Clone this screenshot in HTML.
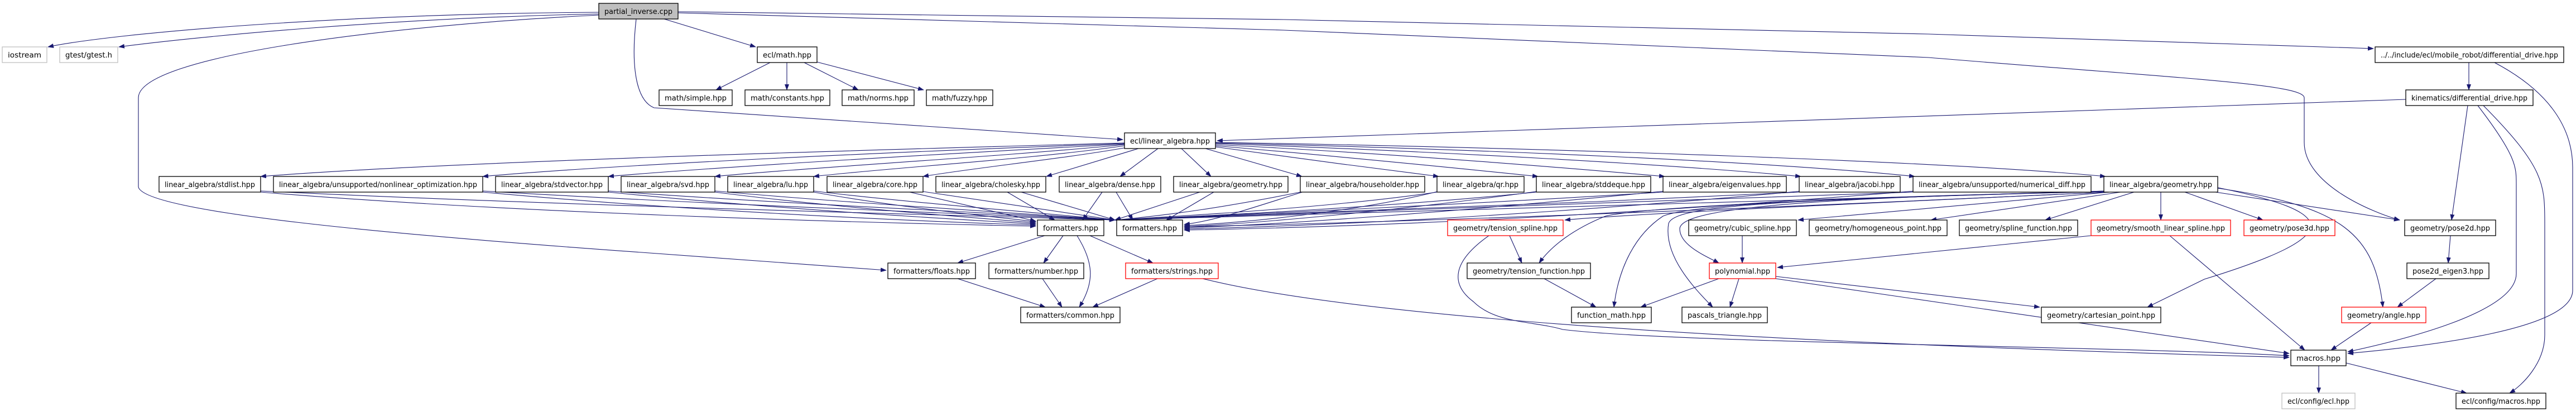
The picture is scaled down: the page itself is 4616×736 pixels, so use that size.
<!DOCTYPE html>
<html><head><meta charset="utf-8"><style>
html,body{margin:0;padding:0;background:#fff}
svg{display:block}
text{font-family:"DejaVu Sans","Liberation Sans",sans-serif;font-size:13px;fill:#000}
.n{fill:#fff;stroke:#000;stroke-width:1.3}
.r{fill:#fff;stroke:#ff0000;stroke-width:1.3}
.g{fill:#fff;stroke:#bfbfbf;stroke-width:1.3}
.e path,.e line{fill:none;stroke:#191970;stroke-width:1.1;marker-end:url(#a)}
</style></head><body>
<svg width="4616" height="736" viewBox="0 0 4616 736" xmlns="http://www.w3.org/2000/svg">
<defs><marker id="a" markerUnits="userSpaceOnUse" markerWidth="11" markerHeight="8" refX="10" refY="4" orient="auto"><path d="M0,0 L11,4 L0,8 z" fill="#191970"/></marker></defs>
<g class="e">
<!-- partial_inverse -->
<path d="M1073,22 C600,25 200,60 86,84"/>
<path d="M1073,25 C700,32 350,66 213,84"/>
<line x1="1190" y1="34" x2="1354" y2="84"/>
<path d="M1140,34 C1130,120 1140,180 1172,193 L2012,250"/>
<path d="M1073,27 C700,45 248,100 248,175 L248,335 C260,380 700,420 1150,452 L1588,484"/>
<path d="M1215,21 L2300,35 L3456,61 L4253,87"/>
<path d="M1215,23 L2300,54 L3456,103 C3900,140 4129,150 4129,175 L4129,255 C4129,330 4250,380 4300,394"/>
<!-- math -->
<line x1="1380" y1="112" x2="1283" y2="161"/>
<line x1="1410" y1="112" x2="1410" y2="161"/>
<line x1="1441" y1="112" x2="1538" y2="161"/>
<line x1="1464" y1="111" x2="1655" y2="161"/>
<!-- ecl/linear_algebra -> row4 -->
<path d="M2015,256 C1500,270 800,290 467,316"/>
<path d="M2015,257 C1600,272 1100,295 865,316"/>
<path d="M2015,258 C1700,275 1300,298 1090,316"/>
<path d="M2015,259 C1800,280 1450,300 1281,316"/>
<path d="M2015,261 C1850,285 1600,300 1458,316"/>
<path d="M2020,264 C1900,285 1750,300 1654,316"/>
<line x1="2040" y1="266" x2="1875" y2="316"/>
<line x1="2075" y1="266" x2="2007" y2="316"/>
<line x1="2117" y1="266" x2="2170" y2="316"/>
<line x1="2160" y1="266" x2="2333" y2="316"/>
<path d="M2178,263 C2300,280 2450,300 2578,316"/>
<path d="M2178,261 C2400,280 2600,300 2756,316"/>
<path d="M2178,259 C2500,275 2800,300 2983,316"/>
<path d="M2178,257 C2600,272 3000,295 3227,316"/>
<path d="M2178,256 C2700,268 3200,292 3431,316"/>
<path d="M2178,255 C2800,265 3500,290 3773,316"/>
<path d="M4311,178 L2181,252"/>
<!-- row4 -> formatters -->
<path d="M467,344 C900,380 1500,398 1856,405"/>
<path d="M467,342 C1000,368 1700,385 1998,394"/>
<path d="M865,344 C1200,375 1600,395 1856,403"/>
<path d="M865,342 C1300,368 1800,385 1998,394"/>
<path d="M1090,344 C1400,375 1700,392 1856,401"/>
<path d="M1090,342 C1400,365 1800,382 1998,394"/>
<path d="M1281,344 C1500,372 1750,390 1856,399"/>
<path d="M1281,342 C1500,362 1800,380 1998,394"/>
<path d="M1458,344 C1600,370 1780,388 1856,397"/>
<path d="M1458,342 C1600,360 1850,380 1998,394"/>
<line x1="1630" y1="344" x2="1856" y2="396"/>
<line x1="1654" y1="343" x2="1998" y2="394"/>
<line x1="1805" y1="344" x2="1890" y2="394"/>
<line x1="1830" y1="344" x2="1998" y2="394"/>
<line x1="1975" y1="344" x2="1940" y2="394"/>
<line x1="2000" y1="344" x2="2030" y2="394"/>
<line x1="2150" y1="344" x2="1998" y2="394"/>
<line x1="2175" y1="344" x2="2090" y2="394"/>
<path d="M2330,344 C2200,370 2100,385 1998,394"/>
<path d="M2340,342 C2250,370 2180,395 2122,402"/>
<path d="M2575,344 C2400,370 2150,385 1998,394"/>
<path d="M2580,342 C2450,375 2250,398 2122,404"/>
<path d="M2753,344 C2500,370 2200,385 1998,394"/>
<path d="M2760,342 C2500,378 2250,400 2122,406"/>
<path d="M2980,344 C2600,368 2200,385 1998,394"/>
<path d="M2985,342 C2600,380 2300,402 2122,408"/>
<path d="M3224,344 C2800,365 2300,385 1998,394"/>
<path d="M3230,342 C2800,382 2400,404 2122,410"/>
<path d="M3428,344 C2900,362 2300,385 1998,394"/>
<path d="M3432,342 C2900,385 2500,405 2122,412"/>
<path d="M3775,344 C3000,380 2500,398 2122,406"/>
<path d="M3775,342 C3000,362 2400,380 1998,394"/>
<!-- geometry2 -->
<line x1="3800" y1="344" x2="3460" y2="394"/>
<line x1="3824" y1="344" x2="3665" y2="394"/>
<line x1="3872" y1="344" x2="3872" y2="394"/>
<line x1="3915" y1="344" x2="4055" y2="394"/>
<line x1="3970" y1="344" x2="4300" y2="394"/>
<path d="M3974,337 C4200,370 4255,420 4270,550"/>
<path d="M3974,336 C4190,380 4210,420 3950,500 L3848,550"/>
<line x1="3780" y1="344" x2="3222" y2="394"/>
<path d="M3780,344 C3200,370 2900,385 2804,394"/>
<path d="M3775,342 C3300,355 2950,370 2877,387 C2820,410 2780,440 2758,471"/>
<path d="M3775,343 C3200,355 3020,370 2980,387 C2930,420 2900,480 2892,550"/>
<path d="M3775,343 C3150,358 3000,370 2990,400 C2980,460 3040,520 3069,550"/>
<path d="M3775,343 C3150,355 3010,380 3010,410 C3010,440 3060,460 3080,471"/>
<!-- row5/6 -->
<line x1="3122" y1="422" x2="3122" y2="471"/>
<line x1="3747" y1="422" x2="3185" y2="479"/>
<line x1="3888" y1="422" x2="4130" y2="627"/>
<line x1="2705" y1="422" x2="2727" y2="471"/>
<path d="M2668,422 C2600,470 2600,510 2640,540 C2680,580 2750,575 2800,590 C3000,615 3800,620 4102,637"/>
<line x1="2767" y1="499" x2="2860" y2="550"/>
<line x1="3080" y1="499" x2="2940" y2="550"/>
<line x1="3116" y1="499" x2="3100" y2="550"/>
<line x1="3182" y1="495" x2="3655" y2="550"/>
<line x1="3182" y1="499" x2="4102" y2="633"/>
<path d="M2155,499 C2400,560 3000,610 4102,640"/>
<line x1="2074" y1="499" x2="1958" y2="550"/>
<line x1="1716" y1="499" x2="1873" y2="550"/>
<line x1="1868" y1="499" x2="1903" y2="550"/>
<path d="M1930,422 C1960,470 1962,505 1934,550"/>
<line x1="1872" y1="422" x2="1716" y2="471"/>
<line x1="1905" y1="422" x2="1870" y2="471"/>
<line x1="1953" y1="422" x2="2066" y2="471"/>
<!-- right side -->
<line x1="4424" y1="112" x2="4424" y2="161"/>
<path d="M4470,112 C4580,170 4610,240 4610,300 L4610,520 C4610,590 4350,620 4207,633"/>
<line x1="4422" y1="189" x2="4393" y2="394"/>
<path d="M4440,189 C4510,280 4509,300 4509,330 L4509,490 C4509,560 4300,610 4207,630"/>
<path d="M4450,189 C4560,300 4560,330 4560,400 L4560,600 C4560,650 4520,690 4497,704"/>
<line x1="4391" y1="422" x2="4387" y2="471"/>
<line x1="4365" y1="499" x2="4296" y2="550"/>
<line x1="4249" y1="578" x2="4177" y2="627"/>
<line x1="4155" y1="655" x2="4155" y2="704"/>
<line x1="4204" y1="650" x2="4420" y2="704"/>
</g>
<g>
<rect x="1073" y="6" width="142" height="28" fill="#bfbfbf" stroke="#000" stroke-width="1.3"/><text x="1083" y="25" textLength="122" lengthAdjust="spacingAndGlyphs">partial_inverse.cpp</text>
<rect class="g" x="4" y="84" width="80" height="28"/><text x="14" y="103" textLength="60" lengthAdjust="spacingAndGlyphs">iostream</text>
<rect class="g" x="107" y="84" width="104" height="28"/><text x="117" y="103" textLength="84" lengthAdjust="spacingAndGlyphs">gtest/gtest.h</text>
<rect class="n" x="1357" y="84" width="107" height="28"/><text x="1367" y="103" textLength="87" lengthAdjust="spacingAndGlyphs">ecl/math.hpp</text>
<rect class="n" x="4256" y="84" width="338" height="28"/><text x="4266" y="103" textLength="318" lengthAdjust="spacingAndGlyphs">../../include/ecl/mobile_robot/differential_drive.hpp</text>
<rect class="n" x="1181" y="161" width="131" height="28"/><text x="1191" y="180" textLength="111" lengthAdjust="spacingAndGlyphs">math/simple.hpp</text>
<rect class="n" x="1335" y="161" width="152" height="28"/><text x="1345" y="180" textLength="132" lengthAdjust="spacingAndGlyphs">math/constants.hpp</text>
<rect class="n" x="1509" y="161" width="129" height="28"/><text x="1519" y="180" textLength="109" lengthAdjust="spacingAndGlyphs">math/norms.hpp</text>
<rect class="n" x="1660" y="161" width="119" height="28"/><text x="1670" y="180" textLength="99" lengthAdjust="spacingAndGlyphs">math/fuzzy.hpp</text>
<rect class="n" x="4311" y="161" width="228" height="28"/><text x="4321" y="180" textLength="208" lengthAdjust="spacingAndGlyphs">kinematics/differential_drive.hpp</text>
<rect class="n" x="2015" y="238" width="163" height="28"/><text x="2025" y="257" textLength="143" lengthAdjust="spacingAndGlyphs">ecl/linear_algebra.hpp</text>
<rect class="n" x="285" y="316" width="182" height="28"/><text x="295" y="335" textLength="162" lengthAdjust="spacingAndGlyphs">linear_algebra/stdlist.hpp</text>
<rect class="n" x="490" y="316" width="375" height="28"/><text x="500" y="335" textLength="355" lengthAdjust="spacingAndGlyphs">linear_algebra/unsupported/nonlinear_optimization.hpp</text>
<rect class="n" x="888" y="316" width="202" height="28"/><text x="898" y="335" textLength="182" lengthAdjust="spacingAndGlyphs">linear_algebra/stdvector.hpp</text>
<rect class="n" x="1113" y="316" width="168" height="28"/><text x="1123" y="335" textLength="148" lengthAdjust="spacingAndGlyphs">linear_algebra/svd.hpp</text>
<rect class="n" x="1304" y="316" width="154" height="28"/><text x="1314" y="335" textLength="134" lengthAdjust="spacingAndGlyphs">linear_algebra/lu.hpp</text>
<rect class="n" x="1482" y="316" width="172" height="28"/><text x="1492" y="335" textLength="152" lengthAdjust="spacingAndGlyphs">linear_algebra/core.hpp</text>
<rect class="n" x="1677" y="316" width="197" height="28"/><text x="1687" y="335" textLength="177" lengthAdjust="spacingAndGlyphs">linear_algebra/cholesky.hpp</text>
<rect class="n" x="1898" y="316" width="182" height="28"/><text x="1908" y="335" textLength="162" lengthAdjust="spacingAndGlyphs">linear_algebra/dense.hpp</text>
<rect class="n" x="2103" y="316" width="205" height="28"/><text x="2113" y="335" textLength="185" lengthAdjust="spacingAndGlyphs">linear_algebra/geometry.hpp</text>
<rect class="n" x="2330" y="316" width="223" height="28"/><text x="2340" y="335" textLength="203" lengthAdjust="spacingAndGlyphs">linear_algebra/householder.hpp</text>
<rect class="n" x="2575" y="316" width="156" height="28"/><text x="2585" y="335" textLength="136" lengthAdjust="spacingAndGlyphs">linear_algebra/qr.hpp</text>
<rect class="n" x="2753" y="316" width="205" height="28"/><text x="2763" y="335" textLength="185" lengthAdjust="spacingAndGlyphs">linear_algebra/stddeque.hpp</text>
<rect class="n" x="2980" y="316" width="221" height="28"/><text x="2990" y="335" textLength="201" lengthAdjust="spacingAndGlyphs">linear_algebra/eigenvalues.hpp</text>
<rect class="n" x="3224" y="316" width="181" height="28"/><text x="3234" y="335" textLength="161" lengthAdjust="spacingAndGlyphs">linear_algebra/jacobi.hpp</text>
<rect class="n" x="3428" y="316" width="319" height="28"/><text x="3438" y="335" textLength="299" lengthAdjust="spacingAndGlyphs">linear_algebra/unsupported/numerical_diff.hpp</text>
<rect class="n" x="3770" y="316" width="204" height="28"/><text x="3780" y="335" textLength="184" lengthAdjust="spacingAndGlyphs">linear_algebra/geometry.hpp</text>
<rect class="n" x="1859" y="394" width="119" height="28"/><text x="1869" y="413" textLength="99" lengthAdjust="spacingAndGlyphs">formatters.hpp</text>
<rect class="n" x="2001" y="394" width="118" height="28"/><text x="2011" y="413" textLength="98" lengthAdjust="spacingAndGlyphs">formatters.hpp</text>
<rect class="r" x="2594" y="394" width="207" height="28"/><text x="2604" y="413" textLength="187" lengthAdjust="spacingAndGlyphs">geometry/tension_spline.hpp</text>
<rect class="n" x="3026" y="394" width="193" height="28"/><text x="3036" y="413" textLength="173" lengthAdjust="spacingAndGlyphs">geometry/cubic_spline.hpp</text>
<rect class="n" x="3242" y="394" width="247" height="28"/><text x="3252" y="413" textLength="227" lengthAdjust="spacingAndGlyphs">geometry/homogeneous_point.hpp</text>
<rect class="n" x="3511" y="394" width="212" height="28"/><text x="3521" y="413" textLength="192" lengthAdjust="spacingAndGlyphs">geometry/spline_function.hpp</text>
<rect class="r" x="3747" y="394" width="250" height="28"/><text x="3757" y="413" textLength="230" lengthAdjust="spacingAndGlyphs">geometry/smooth_linear_spline.hpp</text>
<rect class="r" x="4021" y="394" width="163" height="28"/><text x="4031" y="413" textLength="143" lengthAdjust="spacingAndGlyphs">geometry/pose3d.hpp</text>
<rect class="n" x="4309" y="394" width="163" height="28"/><text x="4319" y="413" textLength="143" lengthAdjust="spacingAndGlyphs">geometry/pose2d.hpp</text>
<rect class="n" x="1591" y="471" width="157" height="28"/><text x="1601" y="490" textLength="137" lengthAdjust="spacingAndGlyphs">formatters/floats.hpp</text>
<rect class="n" x="1772" y="471" width="170" height="28"/><text x="1782" y="490" textLength="150" lengthAdjust="spacingAndGlyphs">formatters/number.hpp</text>
<rect class="r" x="2017" y="471" width="166" height="28"/><text x="2027" y="490" textLength="146" lengthAdjust="spacingAndGlyphs">formatters/strings.hpp</text>
<rect class="n" x="2629" y="471" width="221" height="28"/><text x="2639" y="490" textLength="201" lengthAdjust="spacingAndGlyphs">geometry/tension_function.hpp</text>
<rect class="r" x="3063" y="471" width="119" height="28"/><text x="3073" y="490" textLength="99" lengthAdjust="spacingAndGlyphs">polynomial.hpp</text>
<rect class="n" x="4313" y="471" width="147" height="28"/><text x="4323" y="490" textLength="127" lengthAdjust="spacingAndGlyphs">pose2d_eigen3.hpp</text>
<rect class="n" x="1829" y="550" width="178" height="28"/><text x="1839" y="569" textLength="158" lengthAdjust="spacingAndGlyphs">formatters/common.hpp</text>
<rect class="n" x="2816" y="550" width="143" height="28"/><text x="2826" y="569" textLength="123" lengthAdjust="spacingAndGlyphs">function_math.hpp</text>
<rect class="n" x="3014" y="550" width="153" height="28"/><text x="3024" y="569" textLength="133" lengthAdjust="spacingAndGlyphs">pascals_triangle.hpp</text>
<rect class="n" x="3658" y="550" width="214" height="28"/><text x="3668" y="569" textLength="194" lengthAdjust="spacingAndGlyphs">geometry/cartesian_point.hpp</text>
<rect class="r" x="4196" y="550" width="151" height="28"/><text x="4206" y="569" textLength="131" lengthAdjust="spacingAndGlyphs">geometry/angle.hpp</text>
<rect class="n" x="4105" y="627" width="99" height="28"/><text x="4115" y="646" textLength="79" lengthAdjust="spacingAndGlyphs">macros.hpp</text>
<rect class="g" x="4089" y="704" width="131" height="28"/><text x="4099" y="723" textLength="111" lengthAdjust="spacingAndGlyphs">ecl/config/ecl.hpp</text>
<rect class="n" x="4401" y="704" width="161" height="28"/><text x="4411" y="723" textLength="141" lengthAdjust="spacingAndGlyphs">ecl/config/macros.hpp</text>
</g>
</svg>
</body></html>
